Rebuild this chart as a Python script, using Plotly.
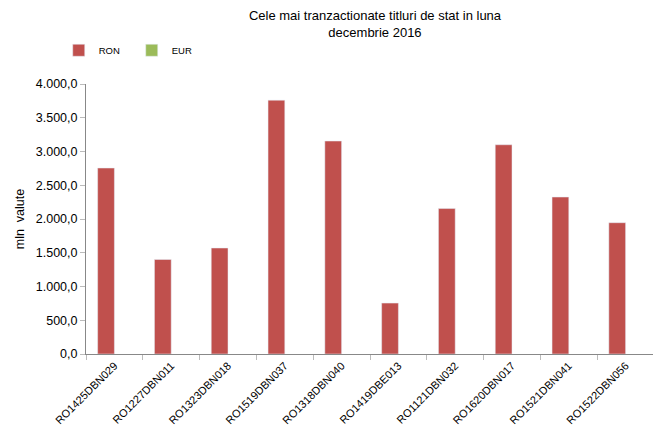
import plotly.graph_objects as go

categories = ["RO1425DBN029", "RO1227DBN011", "RO1323DBN018", "RO1519DBN037", "RO1318DBN040",
              "RO1419DBE013", "RO1121DBN032", "RO1620DBN017", "RO1521DBN041", "RO1522DBN056"]
ron = [2755, 1400, 1570, 3760, 3155, 755, 2155, 3100, 2325, 1945]
eur = [None] * len(categories)

fig = go.Figure()
fig.add_trace(go.Bar(x=categories, y=ron, name="RON", marker_color="#C0504D"))
fig.add_trace(go.Bar(x=categories, y=eur, name="EUR", marker_color="#9BBB59"))

fig.update_layout(
    width=653, height=422,
    paper_bgcolor="white", plot_bgcolor="white",
    font=dict(family="Liberation Sans, Arial, sans-serif", size=11, color="#000"),
    separators=",.",
    barmode="group", bargap=0.41, bargroupgap=0,
    margin=dict(l=78, r=7, t=76, b=76, autoexpand=False),
    title=dict(text="Cele mai tranzactionate titluri de stat in luna<br>decembrie 2016",
               x=0.562, xanchor="center", y=0.972, yanchor="top",
               font=dict(size=13)),
    legend=dict(orientation="h", x=-0.048, y=1.125, xanchor="left", yanchor="middle",
                font=dict(size=9.5), entrywidth=28, itemwidth=30,
                bgcolor="rgba(0,0,0,0)"),
    showlegend=True,
)
fig.update_xaxes(showline=True, linecolor="#888", linewidth=1, ticks="outside",
                 tickson="boundaries", ticklen=5, tickcolor="#bbb", tickangle=-45,
                 tickfont=dict(size=11), showgrid=False, automargin=False)
fig.update_yaxes(range=[0, 4000], dtick=500, tickformat=",.1f", showline=True,
                 linecolor="#888", linewidth=1, ticks="outside", ticklen=5,
                 tickcolor="#bbb", showgrid=False, zeroline=False, automargin=False,
                 title=dict(text="mln  valute", font=dict(size=12.5), standoff=8),
                 tickfont=dict(size=12.5))

fig.write_html("out.html")
